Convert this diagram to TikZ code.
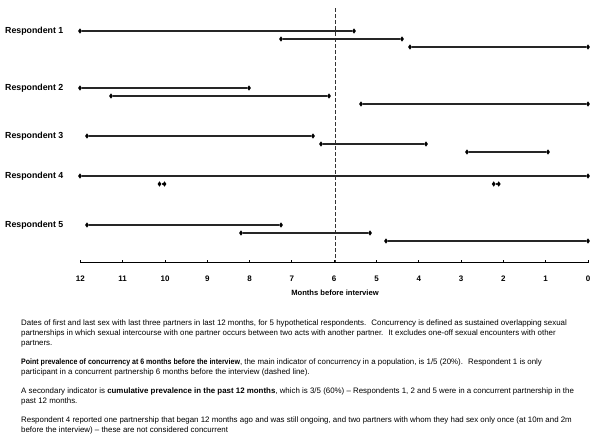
\documentclass[tikz,border=0pt]{standalone}
\usepackage{fontspec}
\usepackage{graphicx}
\setmainfont{Liberation Sans}
\usetikzlibrary{shapes.geometric}
\begin{document}
\begin{tikzpicture}[x=1pt,y=-1pt,
  mk/.style={diamond,fill=black,inner sep=0pt,minimum width=4pt,minimum height=5.5pt},
  seg/.style={line width=1.1pt,black!85},
  rlab/.style={anchor=west,inner sep=0pt,font=\fontsize{8.8}{10}\selectfont\bfseries},
  tlab/.style={inner sep=0pt,font=\fontsize{8}{10}\selectfont\bfseries},
  body/.style={anchor=base west,inner sep=0pt,font=\fontsize{7.9}{10}\selectfont}]
\useasboundingbox (0,0) rectangle (600,434);

% respondent labels
\node[rlab] (l1) at (5,31) {Respondent 1};
\node[rlab] (l2) at (5,88) {Respondent 2};
\node[rlab] (l3) at (5,136) {Respondent 3};
\node[rlab] (l4) at (5,176) {Respondent 4};
\node[rlab] (l5) at (5,225) {Respondent 5};

% dashed line at 6 months
\coordinate (dtop) at (335,8);
\coordinate (dbot) at (335,262);
\draw[dash pattern=on 3.5pt off 2.5pt,line width=0.9pt,black!80] (dtop) -- (dbot);

% Respondent 1
\node[mk] (a1s) at (80,31) {};  \node[mk] (a1e) at (354,31) {};
\node[mk] (a2s) at (281,39) {}; \node[mk] (a2e) at (402,39) {};
\node[mk] (a3s) at (410,47) {}; \node[mk] (a3e) at (588,47) {};
\draw[seg] (a1s) -- (a1e); \draw[seg] (a2s) -- (a2e); \draw[seg] (a3s) -- (a3e);

% Respondent 2
\node[mk] (b1s) at (80,88) {};  \node[mk] (b1e) at (249,88) {};
\node[mk] (b2s) at (111,96) {}; \node[mk] (b2e) at (329,96) {};
\node[mk] (b3s) at (361,104) {}; \node[mk] (b3e) at (588,104) {};
\draw[seg] (b1s) -- (b1e); \draw[seg] (b2s) -- (b2e); \draw[seg] (b3s) -- (b3e);

% Respondent 3
\node[mk] (c1s) at (87,136) {};  \node[mk] (c1e) at (313,136) {};
\node[mk] (c2s) at (321,144) {}; \node[mk] (c2e) at (426,144) {};
\node[mk] (c3s) at (467,152) {}; \node[mk] (c3e) at (548,152) {};
\draw[seg] (c1s) -- (c1e); \draw[seg] (c2s) -- (c2e); \draw[seg] (c3s) -- (c3e);

% Respondent 4
\node[mk] (d1s) at (80,176) {};  \node[mk] (d1e) at (588,176) {};
\node[mk] (d2s) at (159.5,184) {}; \node[mk] (d2e) at (164.5,184) {};
\node[mk] (d3s) at (493.7,184) {}; \node[mk] (d3e) at (498.7,184) {};
\draw[seg] (d1s) -- (d1e); \draw[seg] (d2s) -- (d2e); \draw[seg] (d3s) -- (d3e);

% Respondent 5
\node[mk] (e1s) at (87,225) {};  \node[mk] (e1e) at (281,225) {};
\node[mk] (e2s) at (241,233) {}; \node[mk] (e2e) at (370,233) {};
\node[mk] (e3s) at (386,241) {}; \node[mk] (e3e) at (588,241) {};
\draw[seg] (e1s) -- (e1e); \draw[seg] (e2s) -- (e2e); \draw[seg] (e3s) -- (e3e);

% axis
\coordinate (axl) at (80.4,262.7);
\coordinate (axr) at (588,262.7);
\draw[line width=1.5pt] (axl) -- (axr);
\foreach \m in {0,...,12} {
  \draw[line width=1pt] ({588-42.3*\m},262.7) -- ++(0,-3);
  \node[tlab] (t\m) at ({588-42.3*\m},279) {\m};
}
\node[tlab,font=\fontsize{7.6}{10}\selectfont\bfseries] (xlab) at (335,293) {Months before interview};

% body text
\node[body] (p1a) at (21,325.5) {Dates of first and last sex with last three partners in last 12 months, for 5 hypothetical respondents.~ Concurrency is defined as sustained overlapping sexual};
\node[body] (p1b) at (21,335.5) {partnerships in which sexual intercourse with one partner occurs between two acts with another partner.~ It excludes one-off sexual encounters with other};
\node[body] (p1c) at (21,345.5) {partners.};
\node[body] (p2a) at (21,364.5) {\scalebox{0.89}[1]{\textbf{Point prevalence of concurrency at 6 months before the interview}}, the main indicator of concurrency in a population, is 1/5 (20\%).~ Respondent 1 is only};
\node[body] (p2b) at (21,374.5) {participant in a concurrent partnership 6 months before the interview (dashed line).};
\node[body] (p3a) at (21,393.5) {A secondary indicator is \textbf{cumulative prevalence in the past 12 months}, which is 3/5 (60\%) – Respondents 1, 2 and 5 were in a concurrent partnership in the};
\node[body] (p3b) at (21,403.5) {past 12 months.};
\node[body] (p4a) at (21,422.5) {Respondent 4 reported one partnership that began 12 months ago and was still ongoing, and two partners with whom they had sex only once (at 10m and 2m};
\node[body] (p4b) at (21,432.5) {before the interview) – these are not considered concurrent};
\end{tikzpicture}
\end{document}
